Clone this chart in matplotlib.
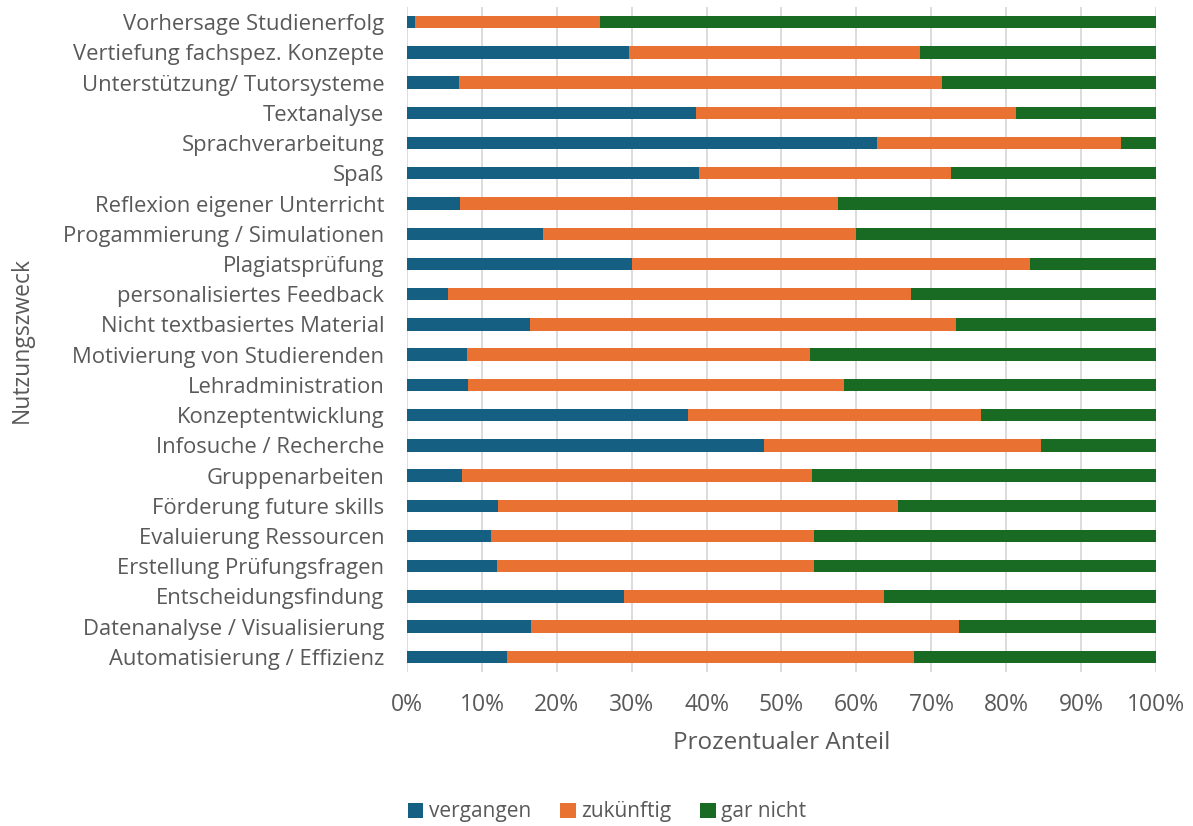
import matplotlib.pyplot as plt
import numpy as np

# Nutzungszweck, von unten nach oben
categories = [
    "Automatisierung / Effizienz",
    "Datenanalyse / Visualisierung",
    "Entscheidungsfindung",
    "Erstellung Prüfungsfragen",
    "Evaluierung Ressourcen",
    "Förderung future skills",
    "Gruppenarbeiten",
    "Infosuche / Recherche",
    "Konzeptentwicklung",
    "Lehradministration",
    "Motivierung von Studierenden",
    "Nicht textbasiertes Material",
    "personalisiertes Feedback",
    "Plagiatsprüfung",
    "Progammierung / Simulationen",
    "Reflexion eigener Unterricht",
    "Spaß",
    "Sprachverarbeitung",
    "Textanalyse",
    "Unterstützung/ Tutorsysteme",
    "Vertiefung fachspez. Konzepte",
    "Vorhersage Studienerfolg",
]

# Anteile in Prozent
vergangen = [13.4, 16.5, 29.0, 12.0, 11.2, 12.2, 7.4, 47.7, 37.5, 8.1, 8.0,
             16.4, 5.5, 30.0, 18.2, 7.1, 39.0, 62.8, 38.6, 7.0, 29.7, 1.1]
zukuenftig = [54.3, 57.2, 34.7, 42.3, 43.1, 53.3, 46.7, 37.0, 39.2, 50.3, 45.8,
              56.9, 61.8, 53.2, 41.8, 50.4, 33.6, 32.5, 42.7, 64.4, 38.8, 24.7]
gar_nicht = [100 - a - b for a, b in zip(vergangen, zukuenftig)]

tick_labels = ["0%", "10%", "20%", "30%", "40%", "50%", "60%", "70%", "80%", "90%", "100%"]

text_col = "#595959"
plt.rcParams["font.family"] = ["Open Sans", "DejaVu Sans"]

fig = plt.figure(figsize=(11.93, 8.26), dpi=100)
ax = fig.add_axes([0.3412, 0.1864, 0.6277, 0.8051])

y = np.arange(len(categories))
h = 0.41
ax.barh(y, vergangen, height=h, color="#156082", label="vergangen", zorder=3)
ax.barh(y, zukuenftig, left=vergangen, height=h, color="#E97132", label="zukünftig", zorder=3)
left2 = [a + b for a, b in zip(vergangen, zukuenftig)]
ax.barh(y, gar_nicht, left=left2, height=h, color="#196B24", label="gar nicht", zorder=3)

ax.set_xlim(0, 100)
ax.set_ylim(-0.5, len(categories) - 0.5)
ax.set_xticks(np.arange(0, 101, 10))
ax.set_xticklabels(tick_labels)
ax.set_yticks(y)
ax.set_yticklabels(categories)
ax.tick_params(axis="both", length=0, colors=text_col)
ax.tick_params(axis="x", pad=15, labelsize=16.5)
ax.tick_params(axis="y", pad=16.5, labelsize=15.8)
ax.xaxis.grid(True, color="#D9D9D9", linewidth=1.3, zorder=0)

for s in ax.spines.values():
    s.set_visible(False)

fig.text(0.6555, 0.1005, "Prozentualer Anteil", fontsize=17.5, color=text_col,
         ha="center", va="center")
fig.text(0.0184, 0.5884, "Nutzungszweck", fontsize=16.5, color=text_col,
         ha="center", va="center", rotation=90)

fig.legend(loc="center", bbox_to_anchor=(0.5088, 0.017), ncol=3, frameon=False,
           fontsize=15, labelcolor=text_col, handlelength=0.75, handleheight=0.75,
           handletextpad=0.25, columnspacing=1.4)

plt.savefig("out.png", dpi=100)
